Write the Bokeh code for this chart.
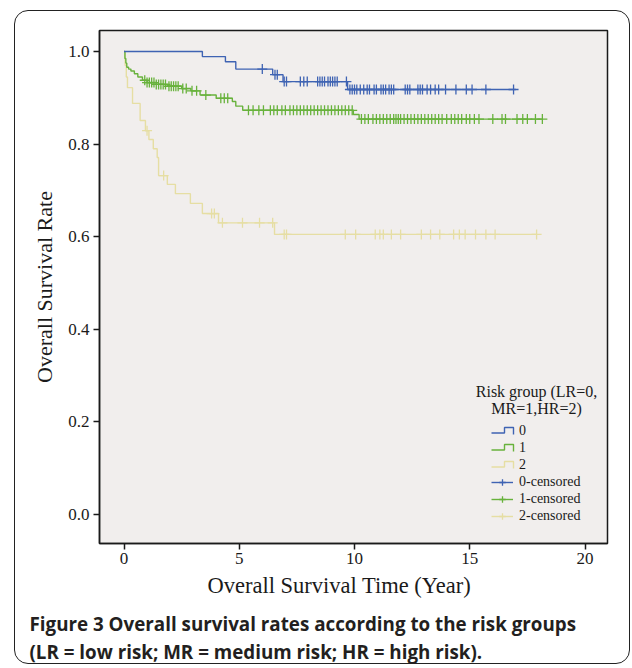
import numpy as np
from bokeh.plotting import figure
from bokeh.models import (Range1d, Label, Legend, LegendItem, Title,
                          FixedTicker, NumeralTickFormatter, InlineStyleSheet)
from bokeh.embed import file_html
from bokeh.resources import INLINE

# ---------------- data ----------------
# Kaplan-Meier step curves: event times (years) and survival after each step
low_t = [0.0, 3.4, 4.4, 4.85, 6.45, 6.9, 9.7]
low_s = [1.0, 0.989, 0.978, 0.962, 0.950, 0.935, 0.918]
low_end = 17.0
low_cens = [6.0, 6.55, 6.65, 6.95, 7.05, 7.65, 7.8, 7.95, 8.4, 8.5, 8.6, 8.7, 8.85,
            8.95, 9.05, 9.15, 9.25, 9.65, 9.8, 9.9, 10.0, 10.1, 10.25, 10.4, 10.55,
            10.65, 10.85, 10.95, 11.15, 11.25, 11.35, 11.5, 11.6, 11.7, 12.2, 12.3,
            12.4, 12.75, 12.85, 12.95, 13.15, 13.3, 13.5, 13.65, 13.95, 14.4, 14.85,
            15.1, 15.7, 16.9]

mid_t = [0.0, 0.04, 0.08, 0.12, 0.2, 0.3, 0.45, 0.6, 0.8, 1.0, 1.4, 1.9, 2.5,
         2.9, 3.3, 4.0, 4.7, 4.85, 5.15, 9.95, 10.2]
mid_s = [1.0, 0.985, 0.975, 0.966, 0.962, 0.958, 0.952, 0.945, 0.938, 0.933,
         0.929, 0.925, 0.920, 0.915, 0.906, 0.899, 0.892, 0.882, 0.873, 0.864, 0.854]
mid_end = 18.15
mid_cens = [0.9, 1.0, 1.1, 1.2, 1.3, 1.4, 1.5, 1.6, 1.7, 1.8, 1.95, 2.05, 2.15,
            2.25, 2.35, 2.55, 2.7, 2.95, 3.15, 3.55, 4.2, 4.35, 4.5, 5.4, 5.6, 5.85,
            6.05, 6.35, 6.5, 6.65, 6.85, 7.0, 7.2, 7.35, 7.5, 7.65, 7.8, 7.95, 8.1,
            8.25, 8.4, 8.55, 8.7, 8.85, 9.0, 9.15, 9.3, 9.45, 9.6, 9.75, 9.9, 10.3,
            10.45, 10.6, 10.8, 10.95, 11.1, 11.25, 11.4, 11.55, 11.7, 11.8, 11.9,
            12.0, 12.15, 12.3, 12.45, 12.6, 12.75, 12.9, 13.05, 13.2, 13.35, 13.5,
            13.65, 13.8, 14.0, 14.2, 14.35, 14.5, 14.65, 14.85, 15.0, 15.2, 15.4,
            16.0, 16.4, 16.55, 17.05, 17.3, 17.5, 17.85, 18.15]

high_t = [0.0, 0.05, 0.1, 0.15, 0.37, 0.7, 0.93, 1.08, 1.27, 1.44, 1.5, 1.88,
          2.23, 2.88, 3.4, 4.1, 6.53]
high_s = [1.0, 0.97, 0.945, 0.922, 0.888, 0.851, 0.829, 0.81, 0.79, 0.771,
          0.732, 0.713, 0.693, 0.672, 0.65, 0.63, 0.605]
high_end = 17.9
high_cens = [1.0, 1.72, 3.8, 3.92, 4.27, 5.14, 5.88, 6.45, 6.95, 7.05, 9.6, 10.05,
             10.9, 11.1, 11.25, 11.6, 12.0, 12.9, 13.3, 13.7, 14.3, 14.55, 14.8,
             15.25, 15.7, 16.1, 17.9]

x_ticks = [0, 5, 10, 15, 20]
y_ticks = [0.0, 0.2, 0.4, 0.6, 0.8, 1.0]
group_names = ["0", "1", "2"]
legend_title = ["Risk group (LR=0,", "MR=1,HR=2)"]
x_title = "Overall Survival Time (Year)"
y_title = "Overall Survival Rate"
caption = ["Figure 3 Overall survival rates according to the risk groups",
           "(LR = low risk; MR = medium risk; HR = high risk)."]

# ---------------- styling ----------------
colors = ["#3f63b3", "#68b23c", "#e6dea3"]
SERIF = "Liberation Serif"
FRAME_W, FRAME_H = 508, 513

p = figure(frame_width=FRAME_W, frame_height=FRAME_H,
           x_range=Range1d(-1.063, 20.976), y_range=Range1d(-0.0626, 1.0454),
           output_backend="svg", toolbar_location=None,
           min_border_left=99, min_border_right=25, min_border_top=30,
           min_border_bottom=125,
           background_fill_color="#f1eeed", border_fill_color="white")
p.outline_line_color = "#1a1a1a"
p.outline_line_width = 1.5
p.grid.visible = False

p.extra_x_ranges["px"] = Range1d(0, FRAME_W)
p.extra_y_ranges["px"] = Range1d(0, FRAME_H)

for ax in (p.xaxis[0], p.yaxis[0]):
    ax.major_tick_out = 6
    ax.major_tick_in = 0
    ax.minor_tick_line_color = None
    ax.axis_line_width = 1.5
    ax.axis_line_color = "#1a1a1a"
    ax.major_tick_line_width = 1.5
    ax.major_tick_line_color = "#1a1a1a"
    ax.major_label_text_font = SERIF
    ax.major_label_text_font_size = "17px"
    ax.major_label_text_color = "#1a1a1a"

p.xaxis.ticker = FixedTicker(ticks=x_ticks)
p.yaxis.ticker = FixedTicker(ticks=y_ticks)
p.yaxis.formatter = NumeralTickFormatter(format="0.0")
p.xaxis.major_label_standoff = 3
p.yaxis.major_label_standoff = 4
p.yaxis.axis_label = y_title
p.yaxis.axis_label_text_font = SERIF
p.yaxis.axis_label_text_font_size = "22px"
p.yaxis.axis_label_text_font_style = "normal"
p.yaxis.axis_label_text_color = "#1a1a1a"
p.yaxis.axis_label_standoff = 8


def step_xy(t, s, end):
    return list(t) + [end], list(s) + [s[-1]]


def cens_y(t, s, c):
    idx = np.searchsorted(np.array(t), np.array(c), side="right") - 1
    return list(np.array(s)[idx])


curves = [(low_t, low_s, low_end, low_cens), (mid_t, mid_s, mid_end, mid_cens),
          (high_t, high_s, high_end, high_cens)]
step_r, cens_r = {}, {}
# draw high risk first so others lie on top
for i in [2, 1, 0]:
    t, s, end, c = curves[i]
    xs, ys = step_xy(t, s, end)
    step_r[i] = p.step(xs, ys, mode="after", line_color=colors[i], line_width=1.4)
    cens_r[i] = p.scatter(c, cens_y(t, s, c), marker="cross", size=10,
                          line_color=colors[i], line_width=1.3)

# ---------------- legend ----------------
LEG_X, LEG_Y, ITEM_H, SPACING, GLYPH_W = 392, 19, 16, 1, 22
items = []
for i, name in enumerate(group_names):
    dummy = p.line([0, 0], [0, 0], line_color=colors[i], line_alpha=0)
    items.append(LegendItem(label=name, renderers=[dummy]))
for i, name in enumerate(group_names):
    items.append(LegendItem(label=name + "-censored",
                            renderers=[step_r[i], cens_r[i]]))

legend = Legend(items=items, location=(LEG_X, LEG_Y), padding=0, margin=0,
                spacing=SPACING, glyph_width=GLYPH_W, glyph_height=ITEM_H,
                label_height=ITEM_H, label_standoff=6,
                label_text_font=SERIF, label_text_font_size="14px",
                label_text_color="#1a1a1a",
                border_line_alpha=0, background_fill_alpha=0)
p.add_layout(legend, "center")

# step-shaped icons for the first three legend entries (frame pixel space)
n_items = len(items)
leg_top = LEG_Y + n_items * ITEM_H + (n_items - 1) * SPACING
for i in range(3):
    cy = leg_top - ITEM_H / 2 - i * (ITEM_H + SPACING)
    x0 = LEG_X
    p.line([x0, x0 + 13, x0 + 13, x0 + GLYPH_W, x0 + GLYPH_W],
           [cy - 1.5, cy - 1.5, cy + 4, cy + 4, cy - 3],
           line_color=colors[i], line_width=1.4,
           x_range_name="px", y_range_name="px")

for k, txt in enumerate(legend_title):
    p.add_layout(Label(x=437, y=152 - 17 * k, x_units="screen", y_units="screen",
                       text=txt, text_align="center", text_baseline="middle",
                       text_font=SERIF, text_font_size="16px",
                       text_color="#1a1a1a"))

# ---------------- texts below the frame ----------------
p.add_layout(Title(text=x_title, align="left", offset=108, standoff=8,
                   text_font=SERIF, text_font_size="22.5px",
                   text_font_style="normal", text_color="#1a1a1a"), "below")
p.add_layout(Title(text="\n".join(caption), align="left", offset=-70, standoff=14,
                   text_font="Open Sans", text_font_size="18.8px",
                   text_line_height=1.1,
                   text_font_style="bold", text_color="#231f20"), "below")

css = (":host::after { content: ''; position: absolute; left: 14px; top: 10px; "
       "width: 616px; height: 654px; border: 1.5px solid #222; "
       "border-radius: 14px; box-sizing: border-box; pointer-events: none; }")
p.stylesheets = [InlineStyleSheet(css=css)]

open("out.html", "w").write(file_html(p, INLINE))
